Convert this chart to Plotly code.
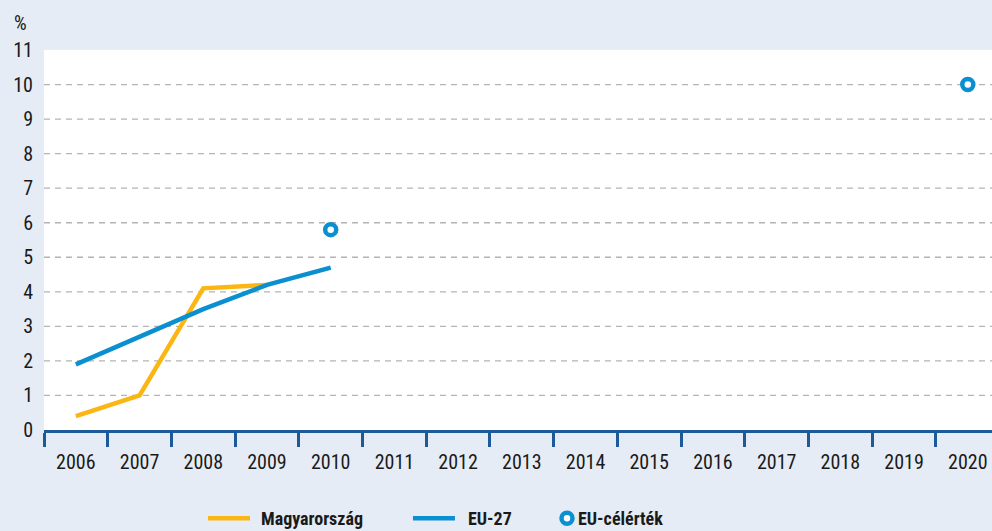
import plotly.graph_objects as go

# Share values (%) by year
years = [str(y) for y in range(2006, 2021)]
hu_years = ["2006", "2007", "2008", "2009"]
hu_values = [0.4, 1.0, 4.1, 4.2]
eu_years = ["2006", "2007", "2008", "2009", "2010"]
eu_values = [1.9, 2.7, 3.5, 4.2, 4.7]
target_years = ["2010", "2020"]
target_values = [5.8, 10.0]
y_ticks = list(range(0, 12))
series_names = ["Magyarország", "EU-27", "EU-célérték"]

ORANGE = "#fbb614"
BLUE = "#0a90d0"
AXIS_BLUE = "#1c5a98"
BG = "#e6ecf6"
TEXT = "#1a1a1a"
FONT = "Roboto Condensed, DejaVu Sans Condensed, sans-serif"

fig = go.Figure()
fig.add_trace(go.Scatter(
    x=hu_years, y=hu_values, mode="lines", name=series_names[0],
    line=dict(color=ORANGE, width=4.5),
))
fig.add_trace(go.Scatter(
    x=eu_years, y=eu_values, mode="lines", name=series_names[1],
    line=dict(color=BLUE, width=4.5),
))
fig.add_trace(go.Scatter(
    x=target_years, y=target_values, mode="markers", name=series_names[2],
    marker=dict(symbol="circle", size=11, color="white",
                line=dict(color=BLUE, width=4.5)),
))

# dashed horizontal grid at the inner ticks
for v in y_ticks[1:-1]:
    fig.add_shape(type="line", xref="paper", x0=0, x1=1, yref="y", y0=v, y1=v,
                  line=dict(color="#b4b4b4", width=1.3, dash="6px,5px"),
                  layer="below")

# unit label above the value axis
fig.add_annotation(text="%", xref="paper", yref="paper", x=-0.0253, y=1.0,
                   xanchor="center", yanchor="middle", yshift=27,
                   showarrow=False, font=dict(family=FONT, size=20, color=TEXT))

# legend row below the axis
LEG_Y = -0.232
LEG_FONT = dict(family=FONT, size=18, color=TEXT, weight="bold")
for (x0, x1, tx), color, name in zip([(0.173, 0.2173, 0.2268), (0.3892, 0.4335, 0.4451)],
                                      [ORANGE, BLUE], series_names[:2]):
    fig.add_shape(type="line", xref="paper", yref="paper", x0=x0, x1=x1,
                  y0=LEG_Y, y1=LEG_Y, line=dict(color=color, width=4.5))
    fig.add_annotation(text=name, xref="paper", yref="paper", x=tx, y=LEG_Y,
                       xanchor="left", yanchor="middle", showarrow=False,
                       font=LEG_FONT)
fig.add_shape(type="circle", xref="paper", yref="paper",
              xsizemode="pixel", ysizemode="pixel",
              xanchor=0.5517, yanchor=LEG_Y, x0=-5.5, x1=5.5, y0=-5.5, y1=5.5,
              fillcolor="white", line=dict(color=BLUE, width=4.5))
fig.add_annotation(text=series_names[2], xref="paper", yref="paper", x=0.5612,
                   y=LEG_Y, xanchor="left", yanchor="middle", showarrow=False,
                   font=LEG_FONT)

fig.update_layout(
    width=992, height=531,
    margin=dict(l=44, r=0, t=50, b=101, autoexpand=False),
    paper_bgcolor=BG, plot_bgcolor="white",
    font=dict(family=FONT, size=20, color=TEXT),
    showlegend=False,
    xaxis=dict(
        type="category", categoryorder="array", categoryarray=years,
        range=[-0.5, 14.38], tickson="boundaries",
        ticks="outside", ticklen=14, tickwidth=2.5, tickcolor=AXIS_BLUE,
        showline=True, linecolor=AXIS_BLUE, linewidth=3,
        showgrid=False, zeroline=False, fixedrange=True,
        ticklabelstandoff=12, tickfont=dict(size=20),
    ),
    yaxis=dict(
        range=[0, 11], tickvals=y_ticks, showgrid=False, zeroline=False,
        showline=False, ticks="", ticklabelstandoff=10, fixedrange=True,
        tickfont=dict(size=20),
    ),
)

fig.write_html("out.html")
